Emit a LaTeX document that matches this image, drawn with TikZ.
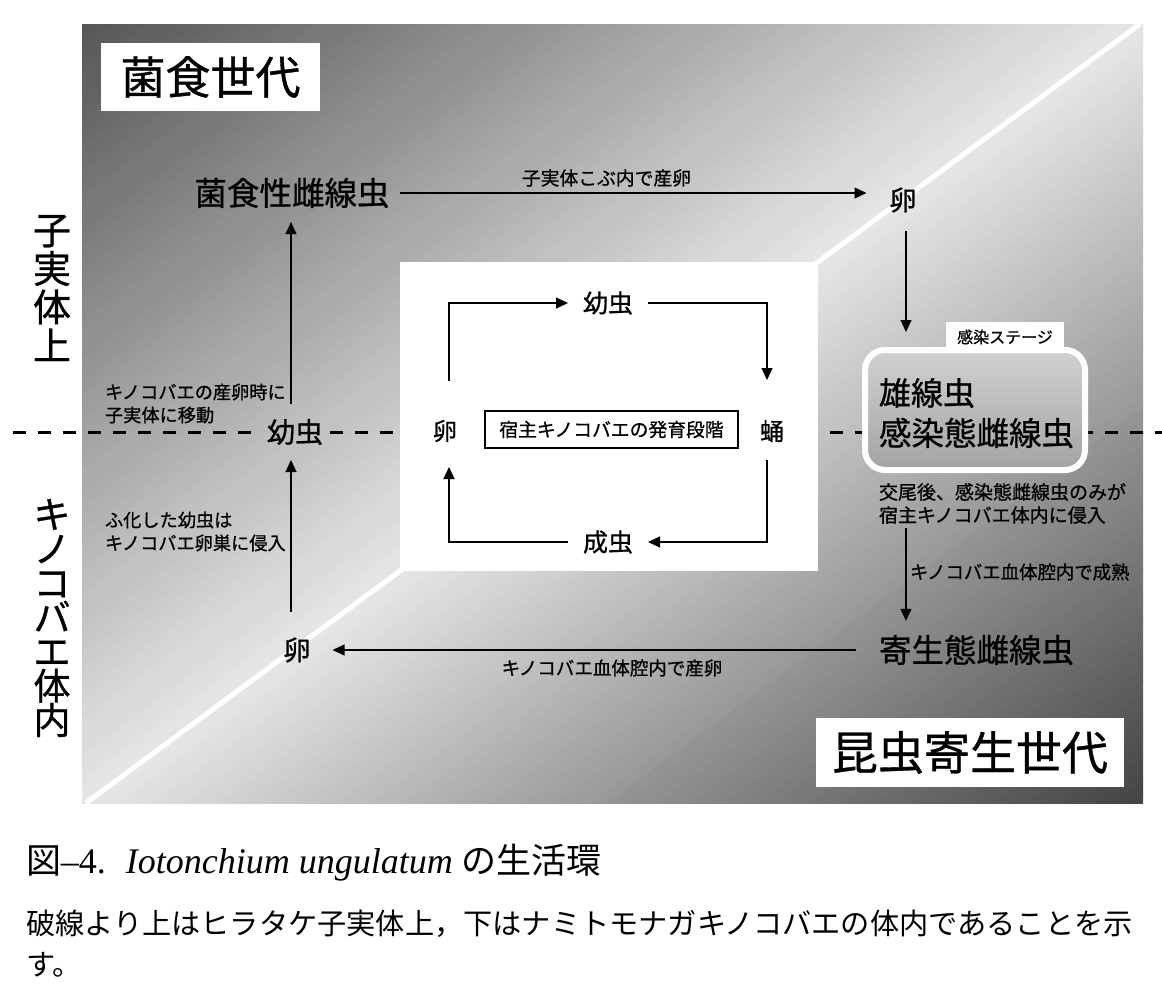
\documentclass[tikz,border=0pt]{standalone}
\usepackage{fontspec}
\setmainfont{Liberation Serif}
\newfontfamily\jp{Noto Sans CJK JP}[FakeBold=0.8]
\newfontfamily\jpcap{Noto Sans CJK JP}
\usetikzlibrary{arrows.meta}
\newcommand\jfs[2]{\jp\fontsize{#1}{#2}\selectfont\lineskiplimit=-100pt\relax}
\newcommand\jcs[2]{\jpcap\fontsize{#1}{#2}\selectfont\lineskiplimit=-100pt\relax}
\tikzset{
  jpt/.style={inner sep=0pt, outer sep=0pt},
  arr/.style={-{Triangle[length=12pt,width=11pt]}, line width=1.2pt},
  divider/.style={line width=3pt, dash pattern=on 13pt off 12pt},
  whitebox/.style={fill=white, inner sep=0pt, outer sep=0pt},
}
\begin{document}
\begin{tikzpicture}[x=1pt, y=-1pt]
\useasboundingbox (0,0) rectangle (1162,993);
\fill[white] (0,0) rectangle (1162,993);

% ---- gradient panel ----
\coordinate (pTL) at (82,24);
\coordinate (pBR) at (1143,803);
\coordinate (diagA) at (86,803);
\coordinate (diagB) at (1140,24);
\begin{scope}
  \clip (pTL) rectangle (pBR);
  \begin{scope}[shift={(612.5,413.5)}, rotate=36.45]
    \foreach \s in {-680,-670,...,670}{
      \pgfmathtruncatemacro\p{\s<0 ? 10+57*min(1,abs(\s+5)/630) : 10+64*min(1,(\s+5)/630)}
      \fill[black!\p] (-900,\s) rectangle (900,\s+10.8);
    }
  \end{scope}
  \draw[white, line width=5pt] (diagA) -- (diagB);
\end{scope}

% ---- nodes ----
\node[jpt, font=\jfs{28}{28}] (larvaL) at (295,432) {幼虫};
\coordinate (dL) at (13,432);
\coordinate (dR) at (1162,432);
\draw[divider] (dL) -- (dL -| larvaL.west) [shorten >=15pt];
\draw[divider, shorten <=7pt] (larvaL.east) -- (dR);

\node[whitebox, minimum width=418pt, minimum height=309pt] (hostbox) at (609,416.5) {};

\node[whitebox, minimum width=118pt, minimum height=30pt, font=\jfs{16}{16}] (stage) at (1005,337) {感染ステージ};
\node[draw=white, line width=6pt, rounded corners=20pt, minimum width=220pt, minimum height=120pt,
      inner sep=0pt, outer sep=0pt, top color=black!18, bottom color=black!36] (infect) at (975,410) {};

\node[whitebox, minimum width=219pt, minimum height=68pt, font=\jfs{45}{45}] (gen1) at (210.5,77) {菌食世代};
\node[whitebox, minimum width=308pt, minimum height=69pt, font=\jfs{46}{46}] (gen2) at (970,752.5) {昆虫寄生世代};

\node[jpt, align=center, font=\jfs{38}{38.5}] (sideUp) at (52,288) {子\\実\\体\\上};
\node[jpt, align=center, font=\jfs{37}{34.3}] (sideDown) at (52,618) {キ\\ノ\\コ\\バ\\エ\\体\\内};

% host development stages
\node[jpt, font=\jfs{24}{24}] (eggIn) at (445,431) {卵};
\node[jpt, font=\jfs{25}{25}] (larvaIn) at (608,303) {幼虫};
\node[jpt, font=\jfs{24}{24}] (pupa) at (772,431) {蛹};
\node[jpt, font=\jfs{25}{25}] (adult) at (608,542) {成虫};
\node[draw, line width=1.2pt, minimum width=253pt, minimum height=37pt, inner sep=0pt, outer sep=0pt,
      font=\jfs{18.8}{18.8}] (hostlbl) at (611.5,429.5) {宿主キノコバエの発育段階};

% nematode stages
\node[jpt, font=\jfs{32.5}{32.5}] (fung) at (292,193) {菌食性雌線虫};
\node[jpt, font=\jfs{27}{27}] (eggTop) at (903,200) {卵};
\node[jpt, anchor=west, font=\jfs{32}{32}] (infM) at (879,393) {雄線虫};
\node[jpt, anchor=west, font=\jfs{32.5}{32.5}] (infF) at (879,433) {感染態雌線虫};
\node[jpt, anchor=west, font=\jfs{32.5}{32.5}] (para) at (879,650) {寄生態雌線虫};
\node[jpt, font=\jfs{27}{27}] (eggBot) at (297,650) {卵};

% labels
\node[jpt, font=\jfs{18.8}{18.8}] (lblTop) at (606.5,178) {子実体こぶ内で産卵};
\node[jpt, anchor=west, align=left, font=\jfs{18.2}{23}] (lblMove) at (105,403.5) {キノコバエの産卵時に\\子実体に移動};
\node[jpt, anchor=west, align=left, font=\jfs{18.2}{23}] (lblHatch) at (105,531.5) {ふ化した幼虫は\\キノコバエ卵巣に侵入};
\node[jpt, anchor=west, align=left, font=\jfs{19}{23}] (lblMate) at (879,503.5) {交尾後、感染態雌線虫のみが\\宿主キノコバエ体内に侵入};
\node[jpt, anchor=west, font=\jfs{18.4}{18.4}] (lblMature) at (910,572) {キノコバエ血体腔内で成熟};
\node[jpt, font=\jfs{18.5}{18.5}] (lblLay) at (612,668) {キノコバエ血体腔内で産卵};

% ---- connectors: host cycle ----
\draw[arr] ([xshift=4pt,yshift=50pt]eggIn.center) |- ([xshift=-15pt]larvaIn.west);
\draw[arr] ([xshift=15pt]larvaIn.east) -| ([xshift=-5pt,yshift=51pt]pupa.center);
\draw[arr] ([xshift=-5pt,yshift=-29pt]pupa.center) |- ([xshift=15pt]adult.east);
\draw[arr] ([xshift=-15pt]adult.west) -| ([xshift=4pt,yshift=-36pt]eggIn.center);

% ---- connectors: nematode cycle ----
\draw[arr, shorten <=10pt, shorten >=23pt] (fung.east) -- (fung.east -| eggTop.west);
\draw[arr, shorten <=19pt, shorten >=18pt] ([xshift=3pt]eggTop.south) -- ([xshift=3pt]eggTop.south |- infect.north);
\draw[arr, shorten <=58pt, shorten >=14pt] ([xshift=-69pt]infect.south) -- ([xshift=-69pt]infect.south |- para.north);
\draw[arr, shorten <=23pt, shorten >=22pt] (para.west) -- (eggBot.east);
\draw[arr, shorten <=26pt, shorten >=15pt] ([xshift=-6pt]eggBot.north) -- ([xshift=-6pt]eggBot.north |- larvaL.south);
\draw[arr, shorten <=15pt, shorten >=14pt] ([xshift=-4pt]larvaL.north) -- ([xshift=-4pt]larvaL.north |- fung.south);

% ---- caption ----
\node[jpt, anchor=base west, font=\fontsize{36}{36}\selectfont] (cap1) at (26,873)
  {{\jcs{35}{35}図}–4.\hspace{20pt}\textit{Iotonchium ungulatum} {\jcs{35}{35}の生活環}};
\node[jpt, anchor=base west, font=\jcs{29.2}{29.2}] (cap2) at (26,934)
  {破線より上はヒラタケ子実体上，下はナミトモナガキノコバエの体内であることを示};
\node[jpt, anchor=base west, font=\jcs{29.2}{29.2}] (cap3) at (26,975) {す。};
\end{tikzpicture}
\end{document}
